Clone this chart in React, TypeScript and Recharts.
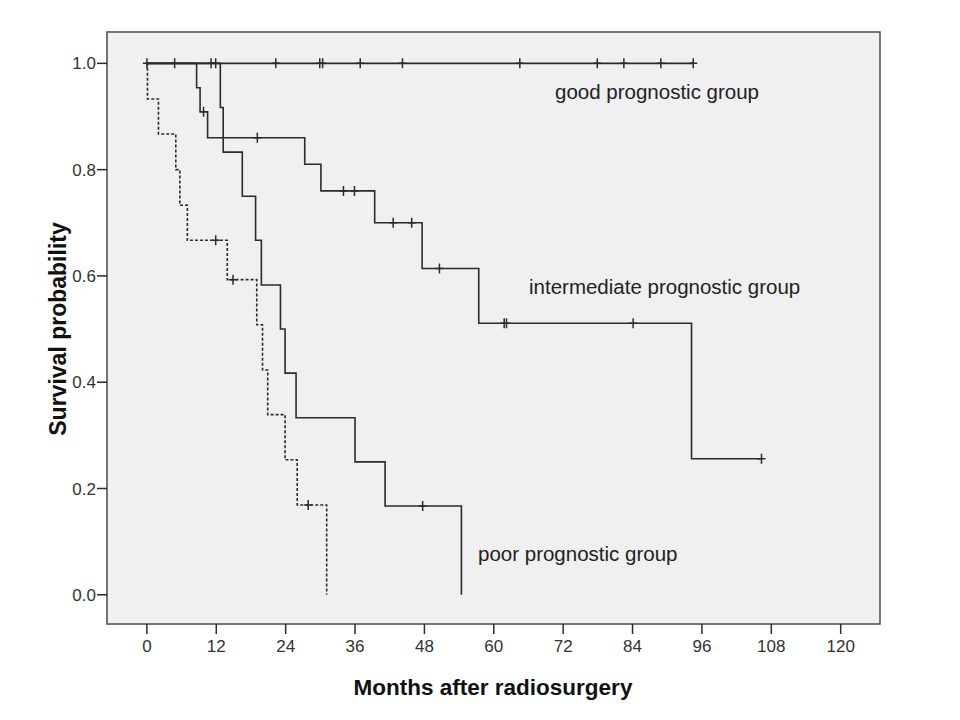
import React from 'react';
import { ComposedChart, Line, Scatter, XAxis, YAxis, ReferenceArea } from 'recharts';

// drop times (months) and survival after each drop
const goodEventT: number[] = [];
const goodEventS: number[] = [];
const goodCensor = [0, 4.8, 11.1, 11.9, 22.3, 29.9, 30.4, 36.9, 44.2, 64.5, 77.9, 82.5, 88.9, 94.5];

const intEventT = [8.6, 9.2, 10.5, 27.3, 30.1, 39.4, 47.6, 57.4, 94.2];
const intEventS = [0.954, 0.909, 0.86, 0.81, 0.76, 0.7, 0.614, 0.511, 0.256];
const intCensor = [9.8, 19.1, 34.0, 35.9, 42.6, 45.8, 50.6, 61.8, 62.2, 84.1, 106.3];

const poorEventT = [12.7, 13.2, 16.5, 18.8, 19.8, 23.1, 23.9, 25.8, 36.0, 41.2, 54.4];
const poorEventS = [0.917, 0.833, 0.75, 0.667, 0.583, 0.5, 0.417, 0.333, 0.25, 0.167, 0];
const poorCensor = [47.7];

const dashEventT = [0.1, 2.0, 5.0, 5.7, 7.0, 13.9, 19.0, 20.0, 20.9, 23.9, 26.0, 31.1];
const dashEventS = [0.933, 0.867, 0.8, 0.733, 0.667, 0.593, 0.508, 0.423, 0.339, 0.254, 0.169, 0];
const dashCensor = [11.9, 14.9, 27.9];

const xTicks = [0, 12, 24, 36, 48, 60, 72, 84, 96, 108, 120];
const yTicks = [0, 0.2, 0.4, 0.6, 0.8, 1.0];

const X_MIN = -6.9;
const X_MAX = 126.8;
const Y_MIN = -0.055;
const Y_MAX = 1.059;

const survivalAt = (ts: number[], ss: number[], t: number) => {
  let s = 1;
  ts.forEach((et, i) => { if (et <= t) s = ss[i]; });
  return s;
};

// step curve: start at 1, every drop, then carry on to the last censor
const buildCurve = (ts: number[], ss: number[], censor: number[]) => {
  const pts = [{ t: 0, s: 1 }, ...ts.map((t, i) => ({ t, s: ss[i] }))];
  const lastC = censor.length ? Math.max(...censor) : 0;
  const lastE = ts.length ? ts[ts.length - 1] : 0;
  if (lastC > lastE) pts.push({ t: lastC, s: survivalAt(ts, ss, lastC) });
  return pts;
};

const buildCensor = (ts: number[], ss: number[], censor: number[]) =>
  censor.map((t) => ({ t, s: survivalAt(ts, ss, t) }));

const INK = '#2b2b2b';

const Plus = (props: any) => {
  const { cx, cy } = props;
  if (cx == null || cy == null) return null;
  return <path d={`M${cx - 4},${cy}h8M${cx},${cy - 5}v10`} stroke={INK} strokeWidth={1.5} fill="none" />;
};

const textFont = "'Liberation Sans', Arial, sans-serif";

const groups = [
  { key: 'good', ts: goodEventT, ss: goodEventS, c: goodCensor, dash: undefined },
  { key: 'int', ts: intEventT, ss: intEventS, c: intCensor, dash: undefined },
  { key: 'poor', ts: poorEventT, ss: poorEventS, c: poorCensor, dash: undefined },
  { key: 'dash', ts: dashEventT, ss: dashEventS, c: dashCensor, dash: '3 2' },
];

const labelStyle: React.CSSProperties = {
  position: 'absolute', fontFamily: textFont, fontSize: 20.5, color: '#222', lineHeight: 1, whiteSpace: 'nowrap',
};

export default function App() {
  return (
    <div style={{ position: 'fixed', left: 0, top: 0, width: 960, height: 720, background: '#fff' }}>
      <ComposedChart width={960} height={720} margin={{ top: 32, right: 80, bottom: 56, left: 47 }}>
        <XAxis
          type="number"
          dataKey="t"
          domain={[X_MIN, X_MAX]}
          ticks={xTicks}
          allowDataOverflow
          axisLine={false}
          tickSize={10}
          tickMargin={6}
          tickLine={{ stroke: INK, strokeWidth: 1.5 }}
          tick={{ fill: '#333', fontSize: 17, fontFamily: textFont }}
          height={40}
        />
        <YAxis
          type="number"
          dataKey="s"
          domain={[Y_MIN, Y_MAX]}
          ticks={yTicks}
          allowDataOverflow
          axisLine={false}
          tickSize={10}
          tickMargin={1}
          tickLine={{ stroke: INK, strokeWidth: 1.5 }}
          tick={{ fill: '#333', fontSize: 17, fontFamily: textFont }}
          tickFormatter={(v: number) => v.toFixed(1)}
          width={60}
        />
        <ReferenceArea x1={X_MIN} x2={X_MAX} y1={Y_MIN} y2={Y_MAX} fill="#f0f0f0" fillOpacity={1} stroke="#4a4a4a" strokeWidth={1.5} />
        {groups.map((g) => (
          <Line
            key={g.key}
            data={buildCurve(g.ts, g.ss, g.c)}
            dataKey="s"
            type="stepAfter"
            stroke={INK}
            strokeWidth={1.6}
            strokeDasharray={g.dash}
            dot={false}
            activeDot={false}
            isAnimationActive={false}
          />
        ))}
        {groups.map((g) => (
          <Scatter
            key={g.key + '-c'}
            data={buildCensor(g.ts, g.ss, g.c)}
            dataKey="s"
            shape={Plus}
            isAnimationActive={false}
          />
        ))}
      </ComposedChart>
      <div style={{ ...labelStyle, left: 555, top: 82 }}>good prognostic group</div>
      <div style={{ ...labelStyle, left: 529, top: 277 }}>intermediate prognostic group</div>
      <div style={{ ...labelStyle, left: 478, top: 544 }}>poor prognostic group</div>
      <div style={{ position: 'absolute', left: 493, top: 677, transform: 'translateX(-50%)', lineHeight: 1, fontFamily: textFont, fontWeight: 'bold', fontSize: 22.5, color: '#111', whiteSpace: 'nowrap' }}>
        Months after radiosurgery
      </div>
      <div style={{ position: 'absolute', left: 57.5, top: 329, transform: 'translate(-50%, -50%) rotate(-90deg)', lineHeight: 1, fontFamily: textFont, fontWeight: 'bold', fontSize: 23, color: '#111', whiteSpace: 'nowrap' }}>
        Survival probability
      </div>
    </div>
  );
}
